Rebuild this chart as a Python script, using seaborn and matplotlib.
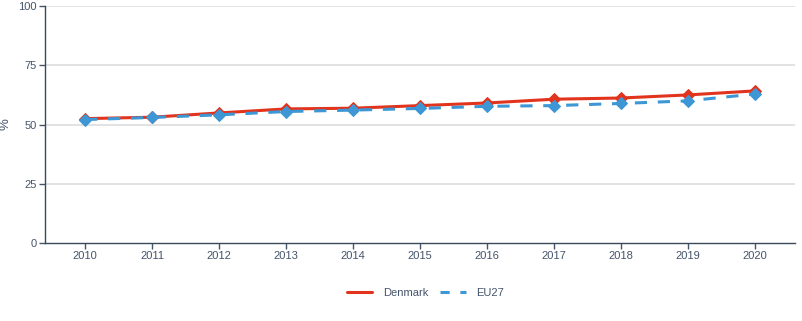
import matplotlib
matplotlib.use("Agg")
import matplotlib.pyplot as plt
import seaborn as sns
import pandas as pd
from matplotlib.lines import Line2D

years = [2010, 2011, 2012, 2013, 2014, 2015, 2016, 2017, 2018, 2019, 2020]
denmark = [52.5, 53.1, 54.9, 56.6, 56.9, 58.0, 59.1, 60.7, 61.2, 62.5, 64.2]
eu27 = [52.1, 53.0, 54.1, 55.5, 56.1, 56.8, 57.7, 58.0, 58.9, 60.0, 62.9]
yticks = [0, 25, 50, 75, 100]

df = pd.concat([
    pd.DataFrame({"year": years, "value": denmark, "series": "Denmark"}),
    pd.DataFrame({"year": years, "value": eu27, "series": "EU27"}),
])

sns.set_theme(style="white")
plt.rcParams["font.family"] = ["Liberation Sans", "DejaVu Sans"]
txt = "#44546a"
red = "#e2341d"
blue = "#3d97d5"

fig = plt.figure(figsize=(8.03, 3.21), dpi=100)
ax = fig.add_axes([0.056, 0.243, 0.934, 0.738])

for ax_y in yticks[1:]:
    ax.axhline(ax_y, color="#dddddd", lw=1.2, zorder=0)

sns.lineplot(data=df[df.series == "Denmark"], x="year", y="value", ax=ax,
             color=red, lw=2.2, marker="D", markersize=6, markeredgecolor=red,
             label="Denmark", zorder=3)
sns.lineplot(data=df[df.series == "EU27"], x="year", y="value", ax=ax,
             color=blue, lw=2.2, marker="D", markersize=6, markeredgecolor=blue,
             label="EU27", zorder=4)
ax.lines[-1].set_linestyle((0, (4, 3.5)))

ax.set_xlim(2009.4, 2020.6)
ax.set_ylim(0, 100)
ax.set_xticks(years)
ax.set_yticks(yticks)
ax.tick_params(axis="both", colors=txt, labelsize=8, length=4, width=1, direction="out",
               bottom=True, left=True, pad=2)
ax.set_xlabel("")
ax.set_ylabel("%", color=txt, fontsize=9.5)
ax.yaxis.set_label_coords(-0.045, 0.5)
for s in ["top", "right"]:
    ax.spines[s].set_visible(False)
for s in ["left", "bottom"]:
    ax.spines[s].set_color("#3a4a5a")
    ax.spines[s].set_linewidth(1)

ax.legend_.remove()
handles = [Line2D([], [], color=red, lw=2.2),
           Line2D([], [], color=blue, lw=2.2, linestyle=(0, (3, 3.5)))]
leg = fig.legend(handles, ["Denmark", "EU27"], loc="center", bbox_to_anchor=(0.53, 0.087),
                 ncol=2, frameon=False, fontsize=8, handlelength=2.3, columnspacing=1.0,
                 handletextpad=1.0)
for t in leg.get_texts():
    t.set_color(txt)

fig.savefig("out.png", dpi=100)
